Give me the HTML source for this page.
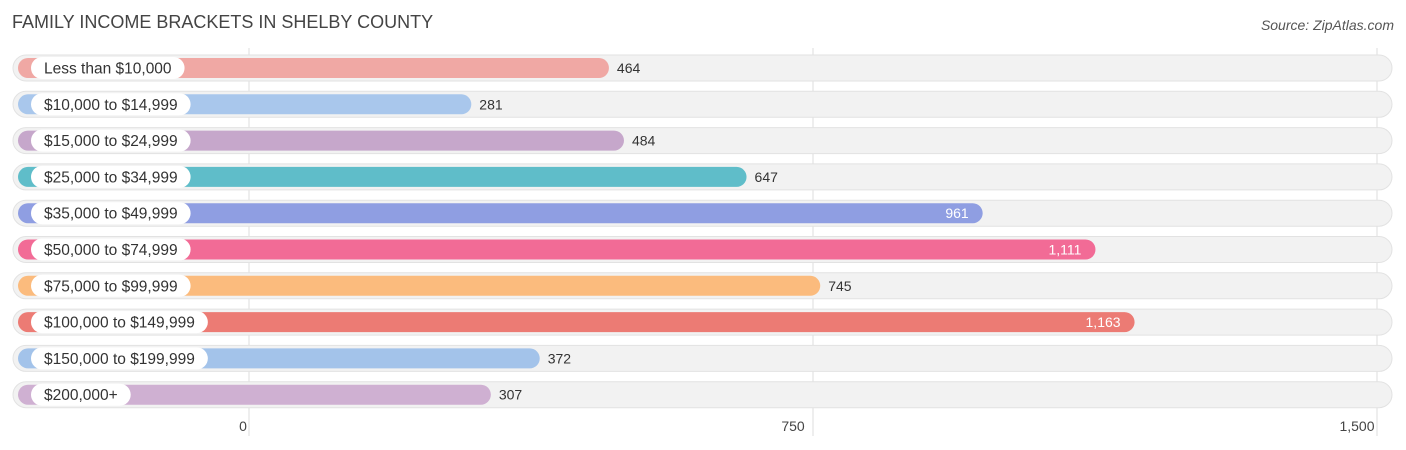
<!DOCTYPE html>
<html><head><meta charset="utf-8"><style>
body{margin:0;background:#fff;font-family:"Liberation Sans",Arial,sans-serif;}
#wrap{position:relative;width:1406px;height:450px;overflow:hidden;}
</style></head><body>
<div id="wrap">
<svg id="svg" width="1406" height="450"></svg>
</div>
<script>
const categories=["Less than $10,000","$10,000 to $14,999","$15,000 to $24,999","$25,000 to $34,999","$35,000 to $49,999","$50,000 to $74,999","$75,000 to $99,999","$100,000 to $149,999","$150,000 to $199,999","$200,000+"];
const values=[464,281,484,647,961,1111,745,1163,372,307];
const valueLabels=["464","281","484","647","961","1,111","745","1,163","372","307"];
const colors=["#f0a8a4","#a9c7ec","#c6a7cb","#5fbdc9","#8f9ee2","#f26b96","#fbbb7d","#ec7b74","#a3c3ea","#cfb0d2"];
const ticks=[0,750,1500];
const tickLabels=["0","750","1,500"];
const NS="http://www.w3.org/2000/svg";
const svg=document.getElementById('svg');
function x(v){return 249+v*(564/750);}
function y(i){return 68+i*36.3;}
function mk(t,a){const e=document.createElementNS(NS,t);for(const k in a)e.setAttribute(k,a[k]);return e;}
let t=mk('text',{x:12,y:28,'font-size':18,fill:'#444'});t.textContent="FAMILY INCOME BRACKETS IN SHELBY COUNTY";


svg.appendChild(t);
t=mk('text',{x:1394,y:30,'font-size':14,fill:'#555','font-style':'italic','text-anchor':'end'});t.textContent="Source: ZipAtlas.com";


svg.appendChild(t);
ticks.forEach((v,i)=>{
 const g=mk('line',{x1:x(v),x2:x(v),y1:48,y2:436,stroke:'#ddd','stroke-width':1});
 
 
 svg.appendChild(g);
});
categories.forEach((c,i)=>{
 const cy=y(i);
 const bg=mk('rect',{x:13,y:cy-13,width:1379,height:26,rx:13,fill:'#f2f2f2',stroke:'#e2e2e2'});
 
 
 svg.appendChild(bg);
 const end=x(values[i])+11;
 const b=mk('rect',{x:18,y:cy-10,width:end-18,height:20,rx:10,fill:colors[i]});
 
 
 svg.appendChild(b);
 const lt=mk('text',{x:44,y:cy+5.5,'font-size':15.5,fill:'#333'});lt.textContent=c;
 svg.appendChild(lt);
 const w=lt.getComputedTextLength();
 const p=mk('rect',{x:31,y:cy-11,width:w+26,height:22,rx:11,fill:'#fff'});
 
 
 svg.insertBefore(p,lt);
 
 
 const inside=values[i]>900;
 const vt=mk('text',{x:inside?end-14:end+8,y:cy+5,'font-size':14,fill:inside?'#fff':'#333','text-anchor':inside?'end':'start'});
 vt.textContent=valueLabels[i];
 
 
 svg.appendChild(vt);
});
ticks.forEach((v,i)=>{
 const tl=mk('text',{x:x(v)-(i==0?6:20),y:431,'font-size':14,fill:'#444','text-anchor':'middle'});
 tl.textContent=tickLabels[i];
 
 
 svg.appendChild(tl);
});
</script>
</body></html>
